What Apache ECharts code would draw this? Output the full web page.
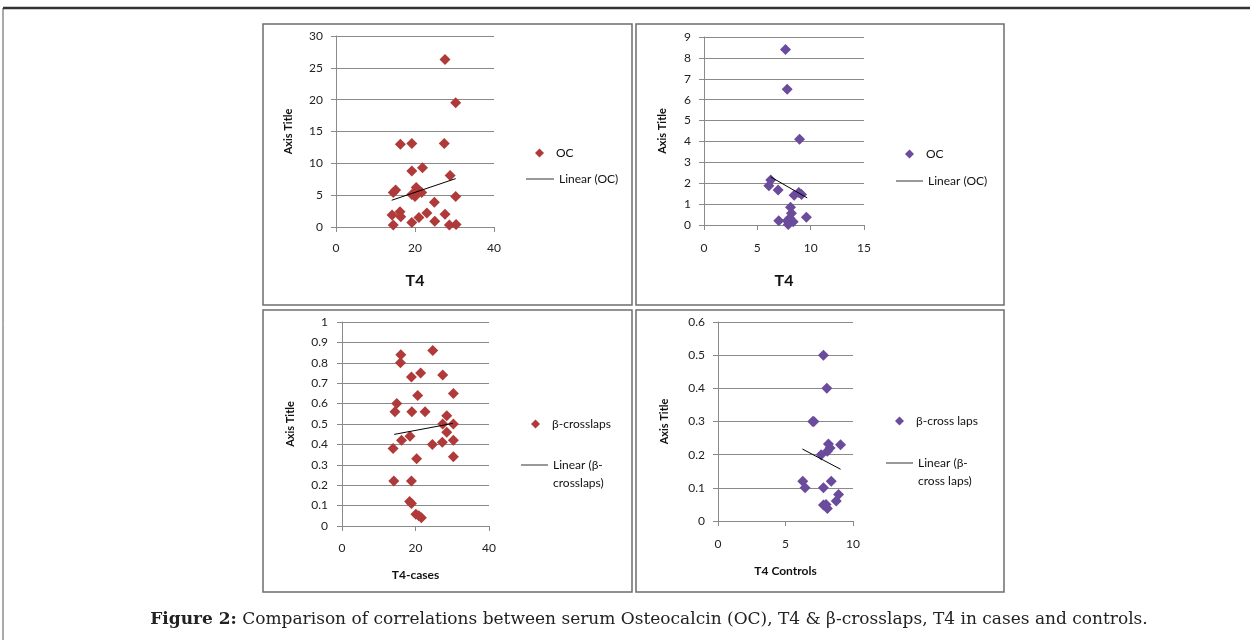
<!DOCTYPE html>
<html>
<head>
<meta charset="utf-8">
<script src="https://cdn.jsdelivr.net/npm/echarts@6/dist/echarts.min.js"></script>
<style>
  html, body { margin: 0; padding: 0; background: #fff; }
  #chart { width: 1250px; height: 640px; }
</style>
</head>
<body>
<div id="chart"></div>
<script>
// panel 1: T4 vs OC (cases)
const ocCases = [
  [27.6, 26.3], [30.3, 19.5], [16.3, 13.0], [19.2, 13.1], [27.4, 13.1],
  [19.2, 8.8], [21.9, 9.3], [28.9, 8.1], [14.5, 5.4], [15.1, 5.8],
  [19.2, 5.1], [20.3, 6.2], [21.2, 5.6], [20.6, 5.8], [21.7, 5.4],
  [20.0, 4.8], [30.3, 4.8], [24.9, 3.9], [14.2, 1.9], [16.2, 2.4],
  [16.4, 1.6], [21.0, 1.5], [23.0, 2.2], [19.2, 0.7], [14.5, 0.3],
  [25.0, 0.9], [27.6, 2.0], [28.7, 0.3], [30.4, 0.4]
];
const ocCasesTrend = [[14.1, 4.2], [30.3, 7.6]];

// panel 2: T4 vs OC (controls)
const ocControls = [
  [7.64, 8.4], [7.8, 6.5], [8.96, 4.1], [6.26, 2.15], [6.08, 1.88],
  [6.95, 1.67], [8.45, 1.43], [8.89, 1.56], [9.14, 1.46], [8.11, 0.85],
  [8.2, 0.56], [8.05, 0.32], [7.01, 0.2], [7.9, 0.02], [9.6, 0.37],
  [8.36, 0.16], [7.8, 0.2]
];
const ocControlsTrend = [[6.26, 2.3], [9.67, 1.3]];

// panel 3: T4-cases vs beta-crosslaps
const bcCases = [
  [16.0, 0.84], [15.9, 0.80], [24.7, 0.86], [18.9, 0.73], [21.4, 0.75],
  [27.4, 0.74], [20.6, 0.64], [30.3, 0.65], [14.9, 0.60], [14.4, 0.56],
  [19.0, 0.56], [22.6, 0.56], [28.5, 0.54], [27.4, 0.50], [30.3, 0.50],
  [28.5, 0.46], [18.5, 0.44], [16.2, 0.42], [24.6, 0.40], [27.3, 0.41],
  [30.3, 0.42], [13.9, 0.38], [20.3, 0.33], [30.3, 0.34], [14.1, 0.22],
  [18.9, 0.22], [18.4, 0.12], [18.9, 0.11], [20.1, 0.057], [21.6, 0.04],
  [20.9, 0.05]
];
const bcCasesTrend = [[14.2, 0.449], [30.2, 0.503]];

// panel 4: T4 controls vs beta-cross laps
const bcControls = [
  [7.81, 0.50], [8.06, 0.40], [7.02, 0.30], [7.1, 0.30], [8.18, 0.232],
  [9.08, 0.23], [8.3, 0.22], [8.1, 0.21], [7.64, 0.20], [6.28, 0.12],
  [6.45, 0.10], [7.81, 0.10], [8.39, 0.12], [8.93, 0.08], [8.76, 0.06],
  [7.81, 0.048], [8.1, 0.038], [8.0, 0.05]
];
const bcControlsTrend = [[6.25, 0.217], [9.08, 0.156]];

// leading \n keeps first line level with the legend line
const legendText = {
  oc1: 'OC', lin1: 'Linear (OC)',
  oc2: 'OC', lin2: 'Linear (OC)',
  bc3: 'β-crosslaps', lin3: '\nLinear (β-\ncrosslaps)',
  bc4: 'β-cross laps', lin4: '\nLinear (β-\ncross laps)'
};

const RED = '#b03a3a';
const PURPLE = '#6a4b9c';
const GRID_COLOR = '#8a8a8a';
const FONT = 'Lato, "Open Sans", sans-serif';

function xAxis(idx, max, interval, name, nameSize, nameGap, labelMargin) {
  return {
    gridIndex: idx, type: 'value', min: 0, max: max, interval: interval,
    name: name, nameLocation: 'middle', nameGap: nameGap,
    nameTextStyle: { fontFamily: FONT, fontWeight: 'bold', fontSize: nameSize, color: '#111' },
    axisLine: { onZero: false, lineStyle: { color: GRID_COLOR } },
    axisTick: { show: true, length: 5, lineStyle: { color: GRID_COLOR } },
    axisLabel: { margin: labelMargin, fontFamily: FONT, fontSize: 12, color: '#222' },
    splitLine: { show: false }
  };
}

function yAxis(idx, max, interval, nameGap, labelMargin) {
  return {
    gridIndex: idx, type: 'value', min: 0, max: max, interval: interval,
    name: 'Axis Title', nameLocation: 'middle', nameGap: nameGap, nameRotate: 90,
    nameTextStyle: { fontFamily: FONT, fontWeight: 'bold', fontSize: 11, color: '#111' },
    axisLine: { show: true, lineStyle: { color: GRID_COLOR } },
    axisTick: { show: true, length: 5, lineStyle: { color: GRID_COLOR } },
    axisLabel: { margin: labelMargin, fontFamily: FONT, fontSize: 12, color: '#222' },
    splitLine: { show: true, lineStyle: { color: GRID_COLOR, width: 1 } }
  };
}

function scatter(name, idx, data, color) {
  return {
    name: name, type: 'scatter', xAxisIndex: idx, yAxisIndex: idx,
    data: data, symbol: 'diamond', symbolSize: 11,
    itemStyle: { color: color, opacity: 1 }
  };
}

function trend(name, idx, data) {
  return {
    name: name, type: 'line', xAxisIndex: idx, yAxisIndex: idx,
    data: data, symbol: 'none', lineStyle: { color: '#000', width: 1 },
    itemStyle: { color: '#000' }, z: 3
  };
}

function legend(name, left, top, w, color, isLine) {
  return {
    data: [{ name: name, icon: isLine ? 'rect' : 'diamond', itemStyle: { color: color } }],
    left: left, top: top, orient: 'vertical',
    padding: 0, itemWidth: w, itemHeight: isLine ? 1 : 9, selectedMode: false,
    formatter: n => legendText[n],
    textStyle: { fontFamily: FONT, fontSize: 12, color: '#111',
      lineHeight: isLine ? 18 : 14, padding: [0, 0, 0, isLine ? 0 : 7] }
  };
}

function frame(x, y, w, h) {
  return { type: 'rect', shape: { x: x, y: y, width: w, height: h },
    style: { fill: 'none', stroke: '#6e6e6e', lineWidth: 1.5 }, z: 100 };
}

const chart = echarts.init(document.getElementById('chart'));
chart.setOption({
  animation: false,
  backgroundColor: '#fff',
  grid: [
    { left: 336, top: 36, width: 158, height: 191 },
    { left: 704, top: 37, width: 160, height: 188 },
    { left: 342, top: 322, width: 147, height: 204 },
    { left: 718, top: 322, width: 135, height: 199 }
  ],
  xAxis: [
    xAxis(0, 40, 20, 'T4', 16, 46, 15),
    xAxis(1, 15, 5, 'T4', 16, 48, 17),
    xAxis(2, 40, 20, 'T4-cases', 12, 43, 16),
    xAxis(3, 10, 5, 'T4 Controls', 12, 44, 17)
  ],
  yAxis: [
    yAxis(0, 30, 5, 42, 13),
    yAxis(1, 9, 1, 36, 13),
    yAxis(2, 1, 0.1, 46, 14),
    yAxis(3, 0.6, 0.1, 48, 13)
  ],
  legend: [
    legend('oc1', 535, 146, 9, RED, false),
    legend('lin1', 526, 170, 28, '#333', true),
    legend('oc2', 905, 147, 9, PURPLE, false),
    legend('lin2', 896, 172, 27, '#333', true),
    legend('bc3', 531, 417, 9, RED, false),
    legend('lin3', 521, 438, 27, '#333', true),
    legend('bc4', 895, 414, 9, PURPLE, false),
    legend('lin4', 886, 436, 27, '#333', true)
  ],
  series: [
    scatter('oc1', 0, ocCases, RED),
    trend('lin1', 0, ocCasesTrend),
    scatter('oc2', 1, ocControls, PURPLE),
    trend('lin2', 1, ocControlsTrend),
    scatter('bc3', 2, bcCases, RED),
    trend('lin3', 2, bcCasesTrend),
    scatter('bc4', 3, bcControls, PURPLE),
    trend('lin4', 3, bcControlsTrend)
  ],
  graphic: [
    { type: 'rect', shape: { x: 3, y: 8, width: 1270, height: 660 },
      style: { fill: 'none', stroke: '#555', lineWidth: 1 }, z: 100 },
    { type: 'line', shape: { x1: 3, y1: 8, x2: 1250, y2: 8 },
      style: { stroke: '#333', lineWidth: 2.5 }, z: 101 },
    frame(263, 24, 369, 281),
    frame(636, 24, 368, 281),
    frame(263, 310, 369, 282),
    frame(636, 310, 368, 282),
    { type: 'text', x: 649, y: 620, z: 100,
      style: {
        text: '{b|Figure 2:} Comparison of correlations between serum Osteocalcin (OC), T4 & β-crosslaps, T4 in cases and controls.',
        align: 'center', verticalAlign: 'middle',
        font: '17px "DejaVu Serif", serif', fill: '#222',
        rich: {
          b: { fontFamily: '"DejaVu Serif", serif', fontWeight: 'bold', fontSize: 17, fill: '#222' }
        }
      }
    }
  ]
});
</script>
</body>
</html>
